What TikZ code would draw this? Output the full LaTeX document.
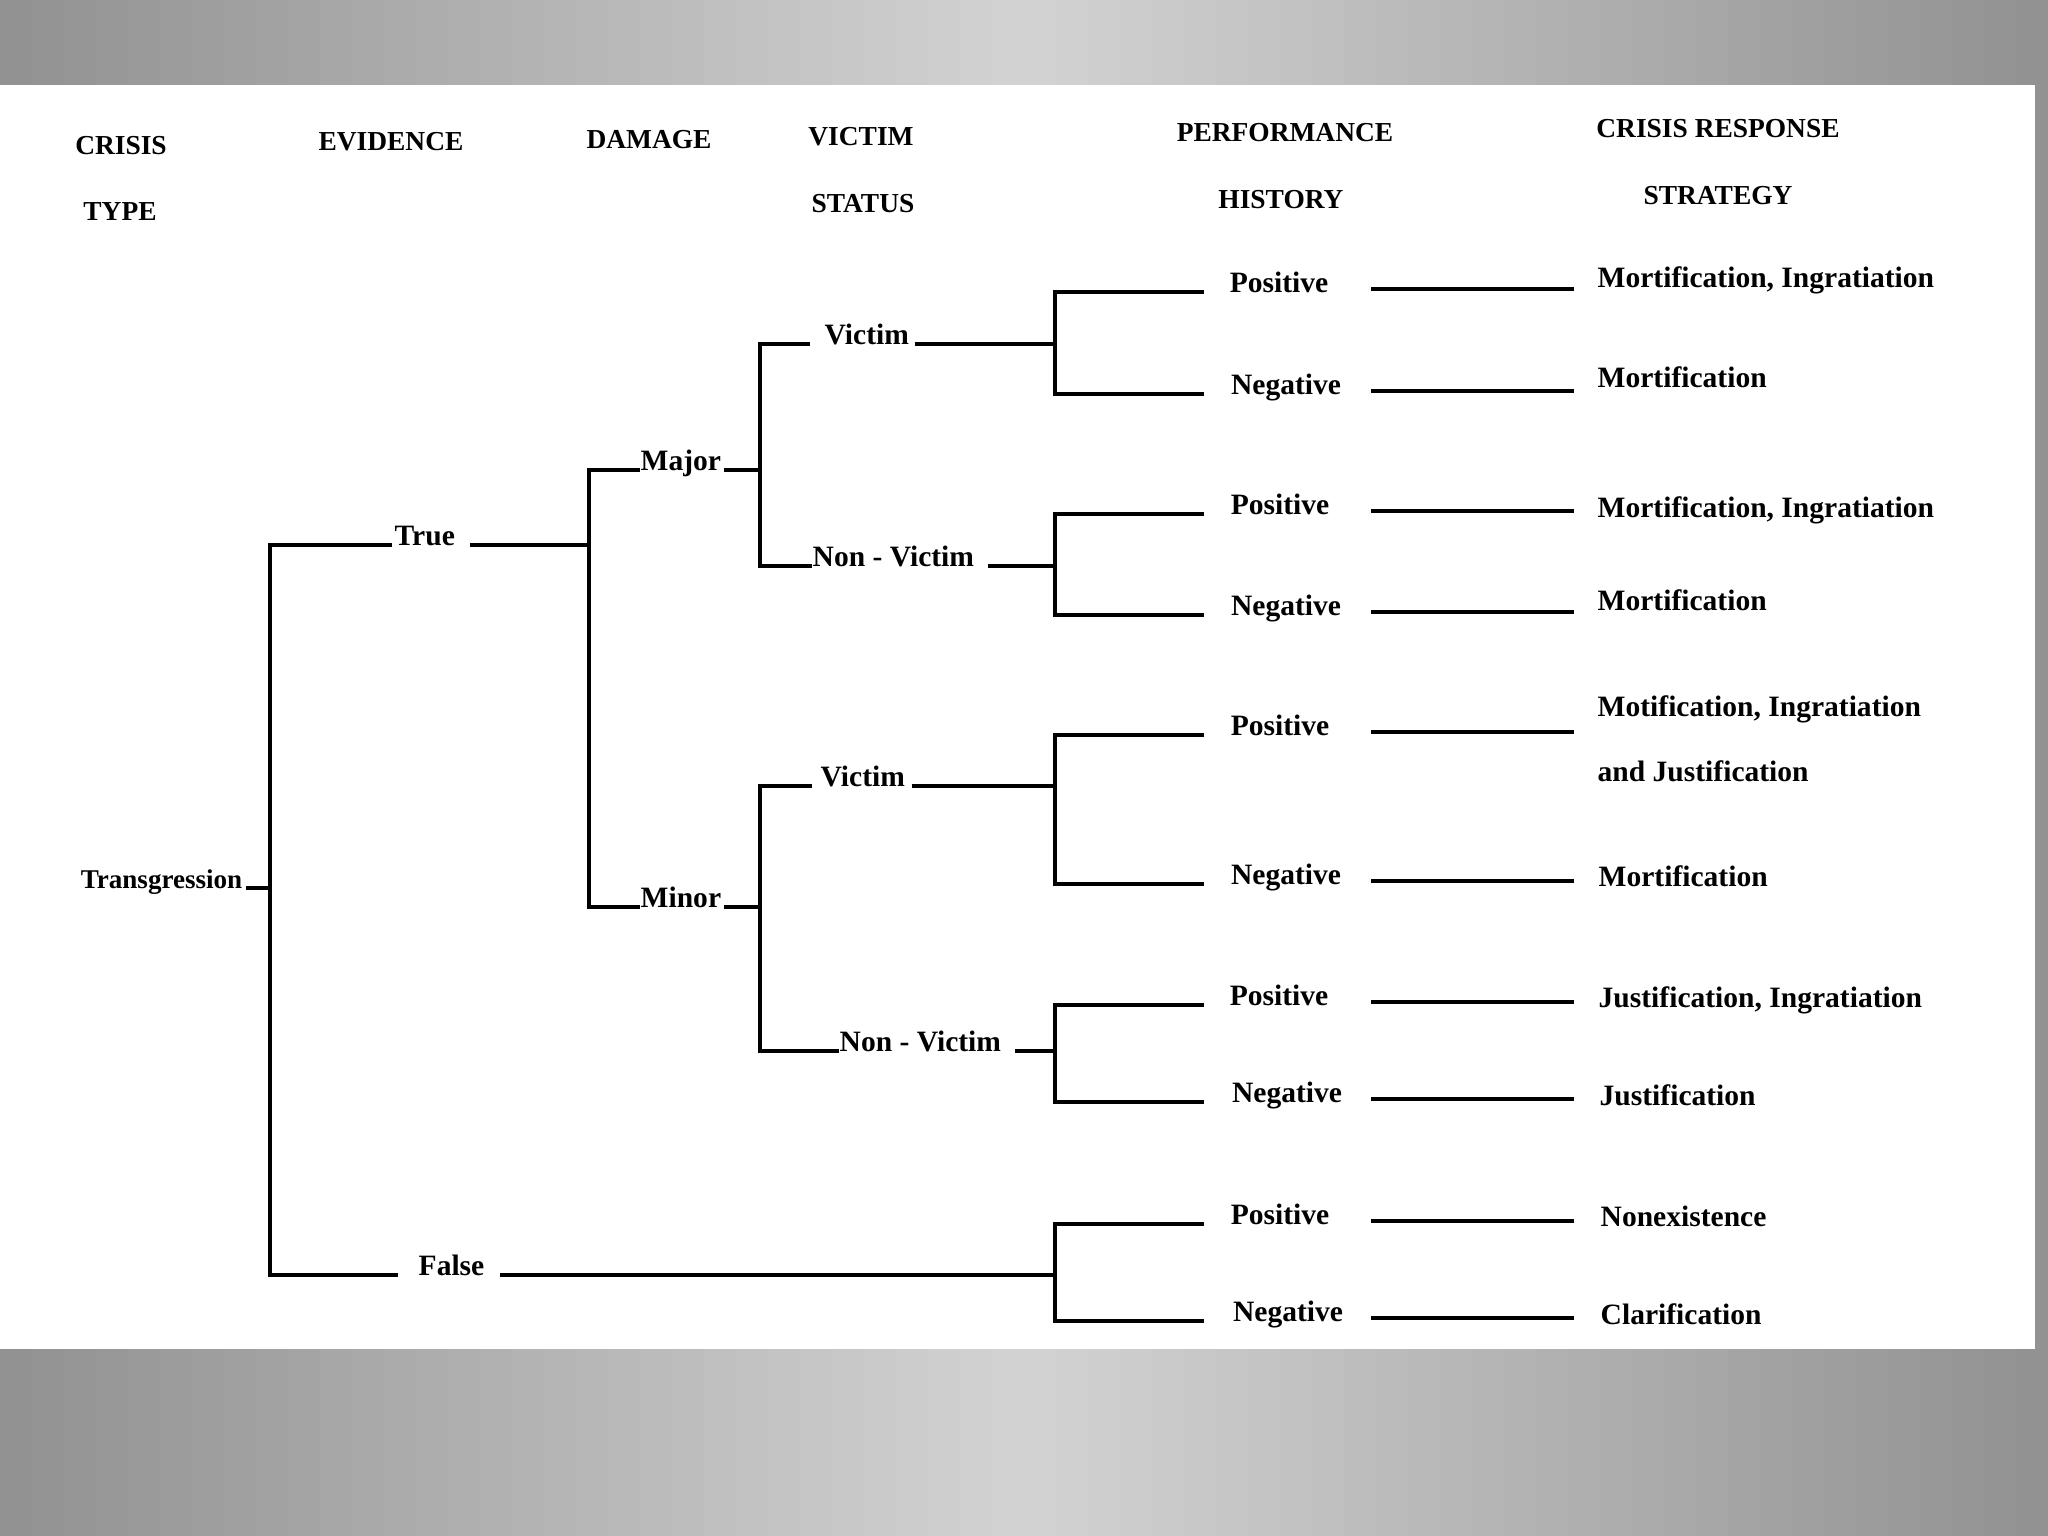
\documentclass[tikz,border=0pt]{standalone}
\usepackage{fontspec}
\setmainfont{Liberation Serif}
\usetikzlibrary{calc}
\definecolor{bgedge}{HTML}{919191}
\definecolor{bgm}{HTML}{D3D3D3}
\tikzset{
  lbl/.style={anchor=base west, inner sep=0pt, font=\bfseries\fontsize{8.4}{10}\selectfont},
  pn/.style={anchor=base, inner sep=0pt, font=\bfseries\fontsize{8.4}{10}\selectfont},
  hdr/.style={anchor=center, inner sep=0pt, font=\bfseries\fontsize{7.8}{9}\selectfont},
  ln/.style={line width=1.2pt, line cap=butt, line join=miter},
}
\begin{document}
\begin{tikzpicture}[x=0.01cm, y=-0.01cm]
\useasboundingbox (0,0) rectangle (2048,1536);
% background gradient (drawn as strips)
\foreach \i in {0,...,63}{
  \pgfmathsetmacro{\t}{abs(\i+0.5-32)/32*100}
  \pgfmathsetmacro{\xa}{\i*32}
  \colorlet{stripc}{bgedge!\t!bgm}
  \fill[stripc] (\xa,0) rectangle ++(33,1536);
}
\fill[white] (0,85) rectangle (2035,1349);

% headers
\node[hdr] (h1a) at (121,146) {CRISIS};
\node[hdr] (h1b) at (120,212) {TYPE};
\node[hdr] (h2) at (391,142) {EVIDENCE};
\node[hdr] (h3) at (649,140) {DAMAGE};
\node[hdr] (h4a) at (861,137) {VICTIM};
\node[hdr] (h4b) at (863,204) {STATUS};
\node[hdr] (h5a) at (1285,133) {PERFORMANCE};
\node[hdr] (h5b) at (1281,200) {HISTORY};
\node[hdr] (h6a) at (1718,129) {CRISIS RESPONSE};
\node[hdr] (h6b) at (1718,196) {STRATEGY};

% tree labels
\node[lbl, anchor=base east, font=\bfseries\fontsize{7.7}{9}\selectfont] (trans) at (243,888) {Transgression};
\node[lbl] (true) at (394,545) {True};
\node[lbl] (false) at (418,1275) {False};
\node[lbl] (major) at (640,470) {Major};
\node[lbl] (minor) at (640,907) {Minor};
\node[lbl] (vic1) at (824,344) {Victim};
\node[lbl] (nv1) at (812,566) {Non - Victim};
\node[lbl] (vic2) at (820,786) {Victim};
\node[lbl] (nv2) at (839,1051) {Non - Victim};

% performance history
\node[pn] (p1) at (1279,292) {Positive};
\node[pn] (n1) at (1286,394) {Negative};
\node[pn] (p2) at (1280,514) {Positive};
\node[pn] (n2) at (1286,615) {Negative};
\node[pn] (p3) at (1280,735) {Positive};
\node[pn] (n3) at (1286,884) {Negative};
\node[pn] (p4) at (1279,1005) {Positive};
\node[pn] (n4) at (1287,1102) {Negative};
\node[pn] (p5) at (1280,1224) {Positive};
\node[pn] (n5) at (1288,1321) {Negative};

% strategies
\node[lbl] (s1) at (1597,287) {Mortification, Ingratiation};
\node[lbl] (s2) at (1597,387) {Mortification};
\node[lbl] (s3) at (1597,517) {Mortification, Ingratiation};
\node[lbl] (s4) at (1597,610) {Mortification};
\node[lbl] (s5a) at (1597,716) {Motification, Ingratiation};
\node[lbl] (s5b) at (1597,781) {and Justification};
\node[lbl] (s6) at (1598,886) {Mortification};
\node[lbl] (s7) at (1598,1007) {Justification, Ingratiation};
\node[lbl] (s8) at (1599,1105) {Justification};
\node[lbl] (s9) at (1600,1226) {Nonexistence};
\node[lbl] (s10) at (1600,1324) {Clarification};

% junction columns
\coordinate (J0) at (270,0);
\coordinate (J1) at (589,0);
\coordinate (J2) at (760,0);
\coordinate (J3) at (1055,0);
\coordinate (B) at (1204,0);
\coordinate (R1) at (1371,0);
\coordinate (R2) at (1574,0);

% crisis type -> evidence
\draw[ln] ($(trans.base east)+(3,0)$) -- (trans.base -| J0);
\draw[ln] ($(true.base west)+(-2,0)$) -- (true.base -| J0) -- (false.base -| J0) -- ($(false.base west)+(-20,0)$);

% evidence -> damage
\draw[ln] ($(true.base east)+(14,0)$) -- (true.base -| J1);
\draw[ln] (major.base west) -- (major.base -| J1) -- (minor.base -| J1) -- (minor.base west);

% damage -> victim status
\draw[ln] ($(major.base east)+(2,0)$) -- (major.base -| J2);
\draw[ln] ($(vic1.base west)+(-14,0)$) -- (vic1.base -| J2) -- (nv1.base -| J2) -- (nv1.base west);
\draw[ln] ($(minor.base east)+(2,0)$) -- (minor.base -| J2);
\draw[ln] ($(vic2.base west)+(-8,0)$) -- (vic2.base -| J2) -- (nv2.base -| J2) -- (nv2.base west);

% victim status -> performance history
\draw[ln] ($(vic1.base east)+(5,0)$) -- (vic1.base -| J3);
\draw[ln] (p1.base -| B) -- (p1.base -| J3) -- (n1.base -| J3) -- (n1.base -| B);
\draw[ln] ($(nv1.base east)+(13,0)$) -- (nv1.base -| J3);
\draw[ln] (p2.base -| B) -- (p2.base -| J3) -- (n2.base -| J3) -- (n2.base -| B);
\draw[ln] ($(vic2.base east)+(6,0)$) -- (vic2.base -| J3);
\draw[ln] (p3.base -| B) -- (p3.base -| J3) -- (n3.base -| J3) -- (n3.base -| B);
\draw[ln] ($(nv2.base east)+(13,0)$) -- (nv2.base -| J3);
\draw[ln] (p4.base -| B) -- (p4.base -| J3) -- (n4.base -| J3) -- (n4.base -| B);
\draw[ln] ($(false.base east)+(15,0)$) -- (false.base -| J3);
\draw[ln] (p5.base -| B) -- (p5.base -| J3) -- (n5.base -| J3) -- (n5.base -| B);

% performance history -> strategy
\foreach \n in {p1,n1,p2,n2,p3,n3,p4,n4,p5,n5}{
  \draw[ln] ($(\n.base -| R1)+(0,-3)$) -- ($(\n.base -| R2)+(0,-3)$);
}
\end{tikzpicture}
\end{document}
